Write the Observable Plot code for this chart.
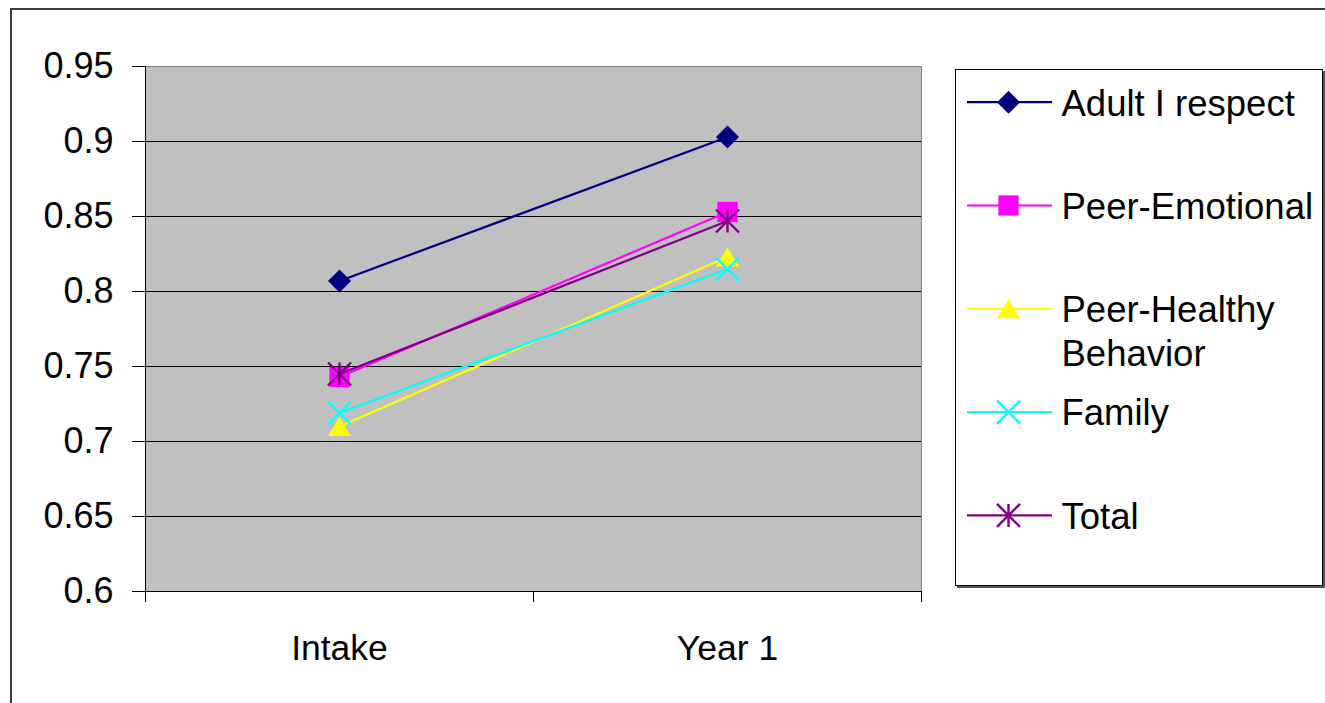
<!DOCTYPE html>
<html><head><meta charset="utf-8">
<script src="https://cdn.jsdelivr.net/npm/d3@7"></script>
<script src="https://cdn.jsdelivr.net/npm/@observablehq/plot@0.6"></script>
<style>
html,body{margin:0;padding:0;background:#fff;}
#wrap{position:relative;width:1325px;height:703px;overflow:hidden;font-family:"Liberation Sans",Arial,sans-serif;}
#outer{position:absolute;left:10px;top:8px;width:1400px;height:800px;border-left:2px solid #3a3a3a;border-top:2px solid #3a3a3a;}
#chart{position:absolute;left:0;top:0;}
#legend{position:absolute;left:955px;top:69px;width:366px;height:515px;border:1px solid #000;box-shadow:2px 2px 0 #555;background:#fff;}
#legend svg, #chart svg{display:block;}
</style></head>
<body><div id="wrap"><div id="outer"></div><div id="chart"></div><div id="legend"></div></div>
<script>
// ---- data ----
const categories = ["Intake", "Year 1"];
const seriesNames = ["Adult I respect", "Peer-Emotional", "Peer-Healthy Behavior", "Family", "Total"];
const adultRespect = [0.807, 0.903];
const peerEmotional = [0.743, 0.853];
const peerHealthy = [0.710, 0.823];
const family = [0.719, 0.815];
const total = [0.745, 0.847];
const yTicks = [0.6, 0.65, 0.7, 0.75, 0.8, 0.85, 0.9, 0.95];

// ---- styles ----
const seriesValues = [adultRespect, peerEmotional, peerHealthy, family, total];
const colors = ["#000080", "#FF00FF", "#FFFF00", "#00FFFF", "#800080"];
const sym = {
  diamond: {draw(c, s) { const h = Math.sqrt(s / Math.PI); c.moveTo(0, -h); c.lineTo(h, 0); c.lineTo(0, h); c.lineTo(-h, 0); c.closePath(); }},
  square: {draw(c, s) { const h = Math.sqrt(s / Math.PI) * 0.88; c.moveTo(-h, -h); c.lineTo(h, -h); c.lineTo(h, h); c.lineTo(-h, h); c.closePath(); }},
  triangle: {draw(c, s) { const h = Math.sqrt(s / Math.PI); c.moveTo(0, -h * 0.82); c.lineTo(h, h * 0.82); c.lineTo(-h, h * 0.82); c.closePath(); }},
  cross: {draw(c, s) { const h = Math.sqrt(s / Math.PI); c.moveTo(-h, -h); c.lineTo(h, h); c.moveTo(-h, h); c.lineTo(h, -h); }},
  star: {draw(c, s) { const h = Math.sqrt(s / Math.PI); c.moveTo(-h, -h); c.lineTo(h, h); c.moveTo(-h, h); c.lineTo(h, -h); c.moveTo(0, -h); c.lineTo(0, h); }}
};
const symbols = [sym.diamond, sym.square, sym.triangle, sym.cross, sym.star];
const filled = [true, true, true, false, false];

const rows = seriesNames.flatMap((name, s) => seriesValues[s].map((v, i) => ({name, s, x: i + 0.5, y: v})));

function seriesMarks(s, data, xAcc, yAcc, withLine) {
  const m = [];
  if (withLine) m.push(Plot.line(data, {x: xAcc, y: yAcc, stroke: colors[s], strokeWidth: 2.2}));
  m.push(Plot.dot(data, {
    x: xAcc, y: yAcc, r: 11.5, symbol: symbols[s],
    fill: filled[s] ? colors[s] : "none",
    stroke: filled[s] ? "none" : colors[s],
    strokeWidth: filled[s] ? 0 : 2.4
  }));
  return m;
}

const mainMarks = [
  Plot.frame({fill: "#c0c0c0", stroke: null}),
  Plot.ruleY(yTicks.slice(1, -1), {stroke: "#000", strokeWidth: 1}),
  Plot.ruleY([yTicks[yTicks.length - 1]], {stroke: "#808080"}),
  Plot.ruleX([categories.length], {stroke: "#808080"}),
  Plot.axisY({ticks: yTicks, tickSize: 13, tickPadding: 19, tickFormat: d => String(d), label: null, fontSize: 36}),
  Plot.axisX({ticks: d3.range(categories.length + 1), tickSize: 11, tickFormat: () => "", label: null}),
  Plot.axisX({ticks: categories.map((c, i) => i + 0.5), tickSize: 0, tickPadding: 43, tickFormat: d => categories[Math.floor(d)], label: null, fontSize: 35.5}),
  Plot.ruleY([yTicks[0]], {stroke: "#000"}),
  Plot.ruleX([0], {stroke: "#000"})
];
seriesNames.forEach((name, s) => {
  mainMarks.push(...seriesMarks(s, rows.filter(d => d.s === s), "x", "y", true));
});

const chart = Plot.plot({
  width: 1325, height: 703,
  marginLeft: 145, marginRight: 404, marginTop: 66, marginBottom: 112,
  style: {fontFamily: "'Liberation Sans', Arial, sans-serif", fontSize: "35px", color: "#000", background: "transparent", overflow: "visible"},
  x: {type: "linear", domain: [0, categories.length]},
  y: {domain: [yTicks[0], yTicks[yTicks.length - 1]]},
  marks: mainMarks
});
document.getElementById("chart").append(chart);

// ---- legend ----
const rowY = i => 31.7 + i * 103.3;
const legendRows = seriesNames.map((name, i) => ({name, i}));
const legendMarks = [];
legendRows.forEach((d, s) => {
  legendMarks.push(Plot.ruleY([d], {y: e => rowY(e.i), x1: 11, x2: 96, stroke: colors[s], strokeWidth: 2.2}));
  legendMarks.push(...seriesMarks(s, [d], () => 52, e => rowY(e.i), false));
});
legendMarks.push(Plot.text(legendRows, {
  x: 105, y: d => rowY(d.i) - 17.5, text: "name", textAnchor: "start", lineAnchor: "top",
  lineWidth: 8, lineHeight: 1.19, fontSize: 36.5, fill: "#000"
}));
const legend = Plot.plot({
  width: 366, height: 515, margin: 0,
  style: {fontFamily: "'Liberation Sans', Arial, sans-serif", fontSize: "36px", color: "#000", background: "transparent", overflow: "visible"},
  x: {type: "identity", axis: null},
  y: {type: "identity", axis: null},
  marks: legendMarks
});
document.getElementById("legend").append(legend);
</script>
</body></html>
